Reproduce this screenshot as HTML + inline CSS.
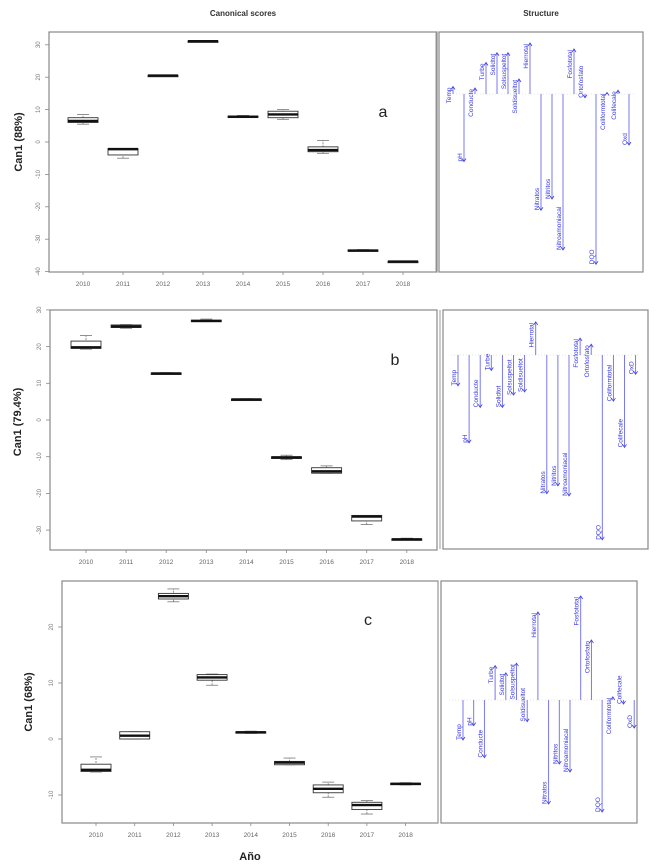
<!DOCTYPE html>
<html><head><meta charset="utf-8">
<style>
html,body{margin:0;padding:0;background:#fff;}
svg{display:block;font-family:"Liberation Sans",sans-serif;}
</style></head>
<body>
<svg id="fig" width="663" height="864" viewBox="0 0 663 864">
<text x="243" y="16" font-size="8" font-weight="bold" fill="#333" text-anchor="middle">Canonical scores</text>
<text x="541" y="16" font-size="8" font-weight="bold" fill="#333" text-anchor="middle">Structure</text>
<text x="22" y="142" font-size="11" font-weight="bold" fill="#222" text-anchor="middle" transform="rotate(-90 22 142)">Can1 (88%)</text>
<text x="21" y="422" font-size="11" font-weight="bold" fill="#222" text-anchor="middle" transform="rotate(-90 21 422)">Can1 (79.4%)</text>
<text x="32" y="702" font-size="11" font-weight="bold" fill="#222" text-anchor="middle" transform="rotate(-90 32 702)">Can1 (68%)</text>
<text x="250" y="860" font-size="11" font-weight="bold" fill="#222" text-anchor="middle">Año</text>
<text x="383" y="117" font-size="16" fill="#222" text-anchor="middle">a</text>
<text x="395" y="365" font-size="16" fill="#222" text-anchor="middle">b</text>
<text x="368" y="625" font-size="16" fill="#222" text-anchor="middle">c</text>
</svg>
<script>
const years = ["2010","2011","2012","2013","2014","2015","2016","2017","2018"];
// [whiskerLow, q1, median, q3, whiskerHigh]
const scoresA = [[5.5,6,6.5,7.5,8.5],[-5,-4,-2.2,-2,-2],[20.3,20.4,20.5,20.6,20.7],[30.9,31,31.1,31.2,31.3],[7.6,7.7,7.8,8,8.2],[7,7.5,8.5,9.5,10],[-3.5,-3,-2.5,-1.5,0.5],[-33.7,-33.6,-33.5,-33.3,-33.2],[-37.1,-37,-36.9,-36.8,-36.7]];
const scoresB = [[19.3,19.5,19.8,21.5,23],[25,25.2,25.5,25.9,26],[12.5,12.6,12.7,12.8,12.9],[26.8,26.9,27,27.2,27.5],[5.4,5.5,5.6,5.7,5.8],[-10.8,-10.5,-10.2,-10,-9.6],[-14.5,-14.5,-14,-13,-12.5],[-28.5,-27.5,-26.3,-26,-26],[-32.7,-32.6,-32.5,-32.4,-32.2]];
const scoresC = [[-5.9,-5.8,-5.5,-4.5,-3.2],[0,0,0.6,1.3,1.3],[24.5,25,25.5,26,26.8],[9.6,10.5,11,11.5,11.6],[1,1.1,1.2,1.3,1.4],[-4.6,-4.6,-4.2,-4,-3.4],[-10.4,-9.6,-8.9,-8.2,-7.7],[-13.4,-12.6,-11.8,-11.3,-11],[-8.2,-8.1,-8,-7.9,-7.8]];
const ticksA = [30,20,10,0,-10,-20,-30,-40];
const ticksB = [30,20,10,0,-10,-20,-30];
const ticksC = [20,10,0,-10];
const varsA = ["Temp","pH","Conducte","Turbe","Solidtot","Solsuspeltot","Soldisueltot","Hierrotal","Nitratos","Nitritos","Nitroamoniacal","Fosfototal","Ortofosfato","DQO","Coliformtotal","Colifecale","Oxd"];
const loadA = [0.1,-0.9,0.08,0.42,0.55,0.55,0.2,0.68,-1.55,-1.4,-2.08,0.6,-0.05,-2.27,0.02,0.05,-0.68];
const varsB = ["Temp","pH","Conducte","Turbe","Solidtot","Solsuspeltot","Soldisueltot","Hierrotal","Nitratos","Nitritos","Nitroamoniacal","Fosfototal","Ortofosfato","DQO","Coliformtotal","Colifecale","OxD"];
const loadB = [-0.4,-1.14,-0.68,-0.2,-0.68,-0.52,-0.48,0.43,-1.8,-1.7,-1.83,0.22,0.14,-2.4,-0.6,-1.2,-0.25];
const varsC = ["Temp","pH","Conducte","Turbe","Solidtot","Solsuspeltot","Soldisueltot","Hierrotal","Nitratos","Nitritos","Nitroamoniacal","Fosfototal","Ortofosfato","DQO","Coliformtotal","Colifecale","OxD"];
const loadC = [-0.5,-0.32,-0.72,0.43,0.34,0.46,-0.27,1.1,-1.3,-0.8,-0.9,1.3,0.75,-1.4,0.04,-0.05,-0.35];

const svg = document.getElementById('fig');
const NS = 'http://www.w3.org/2000/svg';
function mk(tag, attrs){const e=document.createElementNS(NS,tag);for(const k in attrs)e.setAttribute(k,attrs[k]);svg.appendChild(e);return e;}

function boxPanel(p, data, ticks, id){
  const y = v => p.y0 + (p.v0 - v) * p.ppu;
  const x = i => p.xs + i * p.dx;
  const frame = mk('rect',{x:p.l,y:p.t,width:p.r-p.l,height:p.b-p.t,fill:'none',stroke:'#888','stroke-width':1.2});
  
  
  ticks.forEach(t => {
    const ty = y(t);
    const tl = mk('line',{x1:p.l-4,x2:p.l,y1:ty,y2:ty,stroke:'#888','stroke-width':0.8});
    
    
    const tx = mk('text',{x:p.l-9,y:ty,'font-size':6,fill:'#777','text-anchor':'middle',transform:`rotate(-90 ${p.l-9} ${ty})`});
    tx.textContent = t;
    
    
  });
  years.forEach((yr, i) => {
    const cx = x(i);
    const tl = mk('line',{x1:cx,x2:cx,y1:p.b,y2:p.b+3,stroke:'#888','stroke-width':0.8});
    
    
    const tx = mk('text',{x:cx,y:p.b+14,'font-size':6.5,fill:'#666','text-anchor':'middle'});
    tx.textContent = yr;
    
    
    const d = data[i], hw = 15;
    const w = mk('line',{x1:cx,x2:cx,y1:y(d[0]),y2:y(d[4]),stroke:'#777','stroke-width':0.8,'stroke-dasharray':'2,1'});
    
    
    [d[0], d[4]].forEach(v => {
      const c = mk('line',{x1:cx-6,x2:cx+6,y1:y(v),y2:y(v),stroke:'#777','stroke-width':0.8});
      
      
    });
    const bx = mk('rect',{x:cx-hw,y:y(d[3]),width:hw*2,height:Math.max(1.5,y(d[1])-y(d[3])),fill:'#fff',stroke:'#333','stroke-width':0.9});
    
    
    const m = mk('line',{x1:cx-hw,x2:cx+hw,y1:y(d[2]),y2:y(d[2]),stroke:'#111','stroke-width':2.4});
    
    
  });
}

function structPanel(p, names, loads, id){
  const frame = mk('rect',{x:p.l,y:p.t,width:p.r-p.l,height:p.b-p.t,fill:'none',stroke:'#888','stroke-width':1.2});
  
  
  const sep = mk('line',{x1:p.l-3,x2:p.l-3,y1:p.t,y2:p.b,stroke:'#999','stroke-width':1});
  
  
  const bl = mk('line',{x1:p.l+8,x2:p.r-8,y1:p.base,y2:p.base,stroke:'#ccc','stroke-width':0.6,'stroke-dasharray':'1,2'});
  
  
  names.forEach((n, i) => {
    const cx = p.x0 + i * p.dx;
    const ty = p.base - loads[i] * p.ppu;
    const ln = mk('line',{x1:cx,x2:cx,y1:p.base,y2:ty,stroke:'#6a6aee','stroke-width':0.9});
    
    
    const up = ty < p.base;
    const dir = up ? 1 : -1;
    const ar = mk('path',{d:`M${cx-2},${ty+dir*3} L${cx},${ty} L${cx+2},${ty+dir*3}`,fill:'none',stroke:'#4040dd','stroke-width':0.8});
    
    
    const tx = cx - 2;
    const tt = up ? ty + 1 : ty;
    const t = mk('text',{x:tx,y:tt,'font-size':6.5,fill:'#3a3ae0','text-anchor':up?'end':'start',transform:`rotate(-90 ${tx} ${tt})`});
    t.textContent = n;
    
    
  });
}

boxPanel({l:49,r:437,t:32,b:272,y0:142,v0:0,ppu:3.24,xs:83,dx:40}, scoresA, ticksA, 'a');
boxPanel({l:50,r:437,t:310,b:550,y0:420,v0:0,ppu:3.67,xs:86,dx:40.1}, scoresB, ticksB, 'b');
boxPanel({l:62,r:438,t:581,b:823,y0:739,v0:0,ppu:5.6,xs:96,dx:38.7}, scoresC, ticksC, 'c');
structPanel({l:439,r:643,t:32,b:272,base:94,x0:453,dx:11,ppu:75}, varsA, loadA, 'a');
structPanel({l:443,r:648,t:310,b:549,base:355,x0:458,dx:11.1,ppu:77}, varsB, loadB, 'b');
structPanel({l:441,r:637,t:581,b:823,base:700,x0:463,dx:10.7,ppu:80}, varsC, loadC, 'c');
</script>
</body></html>
